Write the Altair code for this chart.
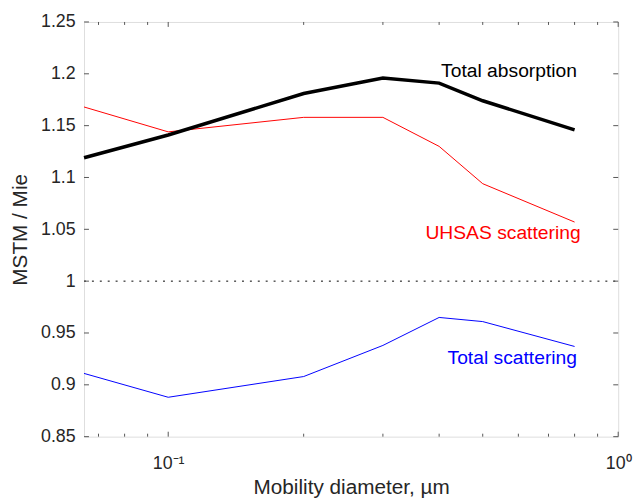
import altair as alt
import pandas as pd

# ---- data ----
diameter = [0.065, 0.1, 0.2, 0.3, 0.4, 0.5, 0.8]
total_absorption = [1.119, 1.141, 1.181, 1.196, 1.191, 1.174, 1.146]
uhsas_scattering = [1.168, 1.144, 1.158, 1.158, 1.130, 1.094, 1.057]
total_scattering = [0.911, 0.888, 0.908, 0.938, 0.965, 0.961, 0.937]

y_ticks = [0.85, 0.9, 0.95, 1.0, 1.05, 1.1, 1.15, 1.2, 1.25]
x_major = [0.1, 1.0]
x_minor = [0.07, 0.08, 0.09, 0.2, 0.3, 0.4, 0.5, 0.6, 0.7, 0.8, 0.9]

label_text = ["Total absorption", "UHSAS scattering", "Total scattering"]
label_x = [0.81, 0.825, 0.81]
label_y = [1.203, 1.046, 0.926]
label_color = ["#000000", "#ff0000", "#0000ff"]

FONT = "Liberation Sans"
W, H = 541, 420

xs = alt.Scale(type="log", domain=[0.065, 1.0], nice=False)
ys = alt.Scale(domain=[0.85, 1.25], nice=False, zero=False)

df = pd.DataFrame({
    "d": diameter,
    "abs": total_absorption,
    "uhsas": uhsas_scattering,
    "sca": total_scattering,
})

base = alt.Chart(df)

x_enc = alt.X(
    "d:Q", scale=xs,
    axis=alt.Axis(
        values=x_major, ticks=False, domain=False, grid=False,
        labelExpr="datum.value < 0.5 ? '10⁻¹' : '10⁰'",
        labelFontSize=18, labelPadding=18, labelColor="#262626",
        title="Mobility diameter, µm", titleFontSize=21, titleFontWeight="normal",
        titleColor="#262626", titlePadding=5, labelFlush=False,
    ),
)
y_axis = alt.Axis(
    values=y_ticks, ticks=False, domain=False, grid=False,
    format=".2~f", labelFontSize=18, labelPadding=9, labelColor="#262626",
    title="MSTM / Mie", titleFontSize=21, titleFontWeight="normal",
    titleColor="#262626", titlePadding=10,
)

red = base.mark_line(color="#ff0000", strokeWidth=1).encode(
    x=x_enc, y=alt.Y("uhsas:Q", scale=ys, axis=y_axis)
)
blue = base.mark_line(color="#0000ff", strokeWidth=1).encode(
    x=alt.X("d:Q", scale=xs), y=alt.Y("sca:Q", scale=ys)
)
black = base.mark_line(color="#000000", strokeWidth=3.5).encode(
    x=alt.X("d:Q", scale=xs), y=alt.Y("abs:Q", scale=ys)
)

one_df = pd.DataFrame({"v": [1.0]})
dotted = alt.Chart(one_df).mark_rule(color="#000000", strokeWidth=1, strokeDash=[2, 6]).encode(
    y=alt.Y("v:Q", scale=ys), x=alt.value(0), x2=alt.value(W)
)

major_df = pd.DataFrame({"t": x_major})
minor_df = pd.DataFrame({"t": x_minor})
ytick_df = pd.DataFrame({"t": y_ticks})
tick_color = "#555555"

def xticks(dfx, length):
    bottom = alt.Chart(dfx).mark_rule(color=tick_color, strokeWidth=1).encode(
        x=alt.X("t:Q", scale=xs), y=alt.value(H), y2=alt.value(H - length)
    )
    top = alt.Chart(dfx).mark_rule(color=tick_color, strokeWidth=1).encode(
        x=alt.X("t:Q", scale=xs), y=alt.value(0), y2=alt.value(length)
    )
    return bottom + top

yt_left = alt.Chart(ytick_df).mark_rule(color=tick_color, strokeWidth=1).encode(
    y=alt.Y("t:Q", scale=ys), x=alt.value(0), x2=alt.value(5)
)
yt_right = alt.Chart(ytick_df).mark_rule(color=tick_color, strokeWidth=1).encode(
    y=alt.Y("t:Q", scale=ys), x=alt.value(W - 5), x2=alt.value(W)
)

lab_df = pd.DataFrame({"text": label_text, "x": label_x, "y": label_y, "c": label_color})
labels = alt.Chart(lab_df).mark_text(
    align="right", baseline="middle", fontSize=19.5, font=FONT
).encode(
    x=alt.X("x:Q", scale=xs), y=alt.Y("y:Q", scale=ys),
    text="text:N", color=alt.Color("c:N", scale=None),
)

chart = alt.layer(
    dotted, red, blue, black, xticks(major_df, 5), xticks(minor_df, 3),
    yt_left, yt_right, labels,
).properties(
    width=W, height=H, autosize="none",
    padding={"left": 77, "top": 11, "right": 15, "bottom": 61},
).configure_view(
    stroke="#555555", strokeWidth=1,
).configure(font=FONT, background="white")

chart.save("out.html", embed_options={"renderer": "svg", "actions": False})
